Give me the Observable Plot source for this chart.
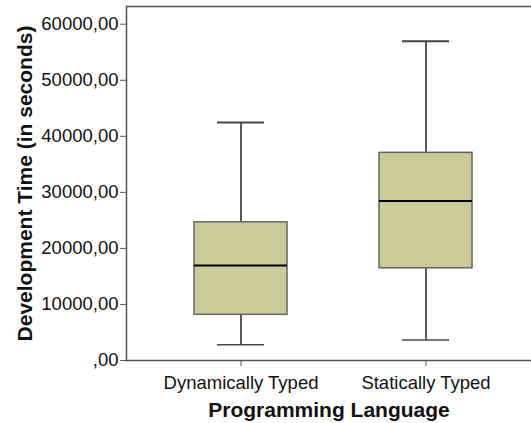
<!DOCTYPE html>
<html>
<head>
<meta charset="utf-8">
<script src="https://cdn.jsdelivr.net/npm/d3@7"></script>
<script src="https://cdn.jsdelivr.net/npm/@observablehq/plot@0.6"></script>
<style>
  html, body { margin: 0; padding: 0; background: #ffffff; }
  #chart svg { display: block; }
</style>
</head>
<body>
<div id="chart"></div>
<script>
const categories = ["Dynamically Typed", "Statically Typed"];
const mins    = [2800, 3650];
const q1s     = [8150, 16450];
const medians = [16950, 28450];
const q3s     = [24650, 37050];
const maxs    = [42450, 56950];
const yTicks  = [0, 10000, 20000, 30000, 40000, 50000, 60000];
const xTitle = "Programming Language";
const yTitle = "Development Time (in seconds)";

const data = categories.map((c, i) => ({
  cat: c, min: mins[i], q1: q1s[i], med: medians[i], q3: q3s[i], max: maxs[i]
}));
const yTop = 63160;

const fmt = d => d === 0 ? ",00" : d + ",00";

const chart = Plot.plot({
  width: 531,
  height: 423,
  marginLeft: 126,
  marginRight: 0,
  marginTop: 6,
  marginBottom: 63,
  style: { fontFamily: "'Liberation Sans', Arial, sans-serif", fontSize: "18.5px", color: "#111", background: "#ffffff" },
  x: { domain: categories, range: [126, 539], paddingInner: 0.5, paddingOuter: 0.365 },
  y: { domain: [0, yTop] },
  marks: [
    Plot.ruleX(data, { x: "cat", y1: "min", y2: "max", stroke: "#222", strokeWidth: 1.5 }),
    Plot.barY(data, { x: "cat", y1: "q1", y2: "q3", fill: "#cbcb99", stroke: "#666", strokeWidth: 1.5 }),
    Plot.tickY(data, { x: "cat", y: "med", stroke: "#000", strokeWidth: 2 }),
    Plot.tickY(data, { x: "cat", y: "max", stroke: "#444", strokeWidth: 2, inset: 23 }),
    Plot.tickY(data, { x: "cat", y: "min", stroke: "#444", strokeWidth: 1.5, inset: 23 }),
    Plot.ruleY([0], { stroke: "#555", strokeWidth: 1.5 }),
    Plot.ruleY([yTop], { stroke: "#555", strokeWidth: 1.5 }),
    Plot.frame({ anchor: "left", stroke: "#555", strokeWidth: 1.5 }),
    Plot.axisY(yTicks, { tickFormat: fmt, tickSize: 6, tickPadding: 2, stroke: "#555", label: null, fontSize: 18.5 }),
    Plot.axisX({ tickSize: 6, tickPadding: 9, stroke: "#555", label: null, fontSize: 18.5 }),
    Plot.text([yTitle], { frameAnchor: "left", dx: -101, rotate: -90, textAnchor: "middle", lineAnchor: "middle", fontWeight: "bold", fontSize: 21, fill: "#111" }),
    Plot.text([xTitle], { frameAnchor: "bottom", dy: 50, textAnchor: "middle", lineAnchor: "middle", fontWeight: "bold", fontSize: 21, fill: "#111" })
  ]
});
document.getElementById("chart").appendChild(chart);
</script>
</body>
</html>
